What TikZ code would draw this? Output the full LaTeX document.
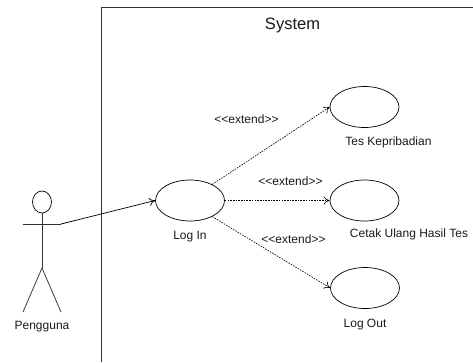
\documentclass[tikz,border=0pt]{standalone}
\usepackage{fontspec}
\setmainfont{Liberation Sans}
\usetikzlibrary{arrows.meta,shapes.geometric}
\tikzset{
  usecase/.style={draw,ellipse,minimum width=69pt,minimum height=41pt,inner sep=0pt,line width=0.7pt},
  lbl/.style={inner sep=0pt,font=\fontsize{12}{14}\selectfont,text=black!90},
  solidline/.style={line width=0.75pt,draw=black!80},
  assoc/.style={line width=0.75pt,-{To[length=6pt,width=8pt]}},
  extendline/.style={line width=0.6pt,dash pattern=on 1.6pt off 1.1pt,-{To[length=6pt,width=8pt,sep=0pt]}}
}
\begin{document}
\begin{tikzpicture}[x=1pt,y=-1pt]
\useasboundingbox (0,0) rectangle (473,362);
% system frame
\coordinate (fbl) at (101.5,362);
\coordinate (ftl) at (101.5,7.5);
\coordinate (ftr) at (473,7.5);
\draw[solidline] (fbl) -- (ftl) -- (ftr);
\node[lbl,font=\fontsize{16.5}{19}\selectfont] (sys) at (292.5,25) {System};
% actor
\node[draw,ellipse,minimum width=19pt,minimum height=22pt,inner sep=0pt,line width=0.7pt] (head) at (42,202) {};
\coordinate (hip) at (42,268);
\coordinate (handl) at (23,224);
\coordinate (handr) at (61,224);
\coordinate (footl) at (23,312);
\coordinate (footr) at (61,312);
\draw[solidline] (head.south) -- (hip);
\draw[solidline] (handl) -- (handr);
\draw[solidline] (footl) -- (hip) -- (footr);
\node[lbl] (peng) at (42,327) {Pengguna};
% use cases
\node[usecase] (login) at (190,200.5) {};
\node[usecase] (tes) at (364.5,107) {};
\node[usecase] (cetak) at (364.5,200.5) {};
\node[usecase] (logout) at (365,288) {};
\node[lbl] (l1) at (190,236.5) {Log In};
\node[lbl] (l2) at (388.5,142) {Tes Kepribadian};
\node[lbl] (l3) at (409,234.5) {Cetak Ulang Hasil Tes};
\node[lbl] (l4) at (365,324.5) {Log Out};
% connectors
\draw[assoc] (handr) -- (login.west);
\draw[extendline] (login.36) -- (tes.west);
\draw[extendline] (login.east) -- (cetak.west);
\draw[extendline] (login.-36) -- (logout.west);
\node[lbl] (e1) at (246.5,119) {<{}<extend>{}>};
\node[lbl] (e2) at (290.5,181.5) {<{}<extend>{}>};
\node[lbl] (e3) at (293.5,239.5) {<{}<extend>{}>};
\end{tikzpicture}
\end{document}
